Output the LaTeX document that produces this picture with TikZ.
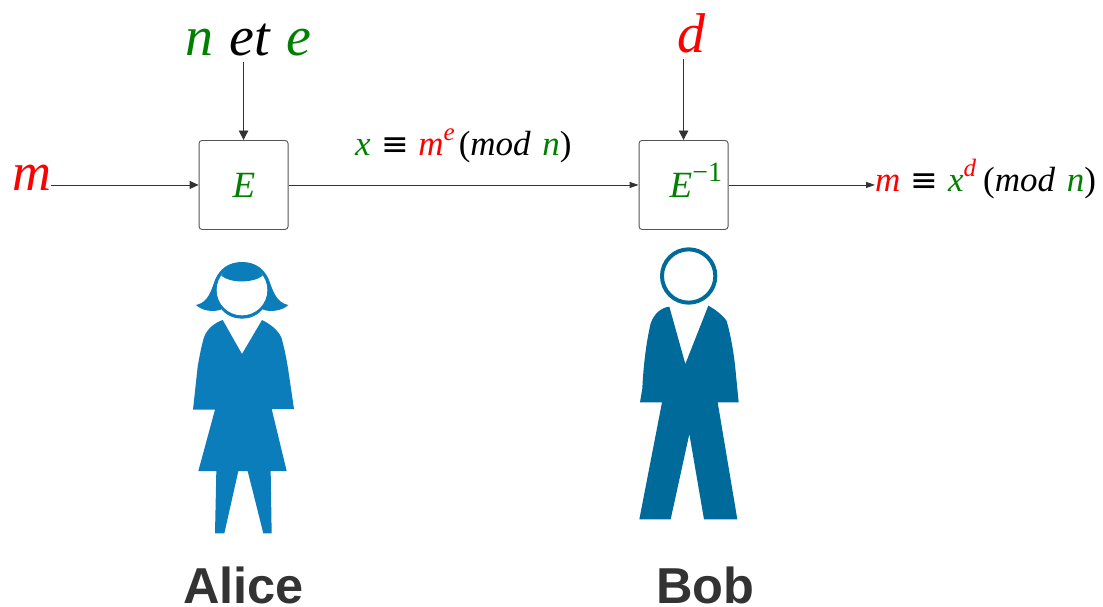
\documentclass[tikz,border=0pt]{standalone}
\usepackage{fontspec}
\setmainfont{Liberation Serif}
\newfontfamily\labelsans{Liberation Sans}
\newfontfamily\symfont{DejaVu Sans}
\usetikzlibrary{arrows.meta}
\definecolor{rsared}{HTML}{FF0000}
\definecolor{rsagreen}{HTML}{008000}
\definecolor{linegray}{HTML}{333333}
\definecolor{boxgray}{HTML}{555555}
\definecolor{alicecol}{HTML}{0A7DBA}
\definecolor{bobcol}{HTML}{006A9A}
\newcommand{\cred}[1]{\textcolor{rsared}{#1}}
\newcommand{\cgrn}[1]{\textcolor{rsagreen}{#1}}
\newcommand{\fsz}[1]{\fontsize{#1}{#1}\selectfont}
\newcommand{\supr}[1]{\raisebox{0.42em}{\fsz{25}#1}}
\newcommand{\equi}{\hspace{10.5pt}{\upshape\symfont\fsz{33}≡}\hspace{9.5pt}}
\tikzset{
  opbox/.style={draw=boxgray,line width=0.9pt,rounded corners=3pt,minimum width=89pt,minimum height=89pt,inner sep=0pt,anchor=north west},
  txt/.style={inner sep=0pt,anchor=base west,font=\itshape},
  conn/.style={draw=linegray,line width=0.9pt},
  tipdown/.style={conn,-{Triangle[length=9.5pt,width=9.5pt]}},
  tipside/.style={conn,-{Triangle[length=9pt,width=8pt]}},
  tipsmall/.style={conn,-{Triangle[length=9pt,width=6pt]}},
  who/.style={inner sep=0pt,anchor=base,text=linegray,text depth=0pt,font=\labelsans\bfseries\fsz{50.5}},
}
\begin{document}
\begin{tikzpicture}[x=1pt,y=-1pt]
\useasboundingbox (0,0) rectangle (1103,606);
% boxes
\node[opbox] (boxE) at (198.6,140) {};
\node[opbox] (boxD) at (638.6,140) {};
\node[txt,font=\itshape\fsz{37}] (labE) at (232.5,197) {\cgrn{E}};
\node[txt,font=\itshape\fsz{37}] (labD) at (669.5,197) {\cgrn{E}\raisebox{0.42em}{\upshape\fsz{28}\cgrn{−1}}};
% labels
\node[txt,font=\itshape\fsz{54}] (msg) at (12,190) {\cred{m}};
\node[inner sep=0pt,anchor=base,font=\itshape\fsz{56},text depth=0pt,outer ysep=6.5pt] (ne) at (248.5,55.5) {\cgrn{n}\hspace{2.5pt} et \hspace{2.5pt}\cgrn{e}};
\node[inner sep=0pt,anchor=base,font=\itshape\fsz{56},text depth=0pt,outer ysep=6.5pt] (dl) at (691,52) {\cred{d}};
\node[txt,font=\itshape\fsz{35}] (cipher) at (355,155.5) {\cgrn{x}\equi\cred{m}\supr{\cred{e}}\hspace{4pt}{\upshape(}mod\hspace{3pt} \cgrn{n}{\upshape)}};
\node[txt,font=\itshape\fsz{35}] (plain) at (875,191.5) {\cred{m}\equi\cgrn{x}\supr{\cred{d}}\hspace{7pt}{\upshape(}mod\hspace{3pt} \cgrn{n}{\upshape)}};
% connectors
\draw[tipside] (msg.east |- boxE.west) -- (boxE.west);
\draw[tipdown] (boxE.north |- ne.south) -- (boxE.north);
\draw[tipdown] (boxD.north |- dl.south) -- (boxD.north);
\draw[tipsmall] (boxE.east) -- (boxD.west);
\draw[tipsmall] (boxD.east) -- (boxD.east -| plain.west);
% Alice
\begin{scope}[shift={(170,250)},x=0.33333pt,y=-0.33333pt]
\fill[alicecol] (216,36) .. controls (175,36) and (148,58) .. (135,90)
  .. controls (124,120) and (115,158) .. (78,165)
  .. controls (95,182) and (130,188) .. (155,178)
  .. controls (170,198) and (195,206) .. (216,206)
  .. controls (237,206) and (262,198) .. (277,178)
  .. controls (300,188) and (338,182) .. (355,165)
  .. controls (318,158) and (308,120) .. (297,90)
  .. controls (284,58) and (257,36) .. (216,36) -- cycle;
\fill[white] (216,120) circle[radius=76];
\fill[alicecol] (154,77) .. controls (180,100) and (250,100) .. (278,77)
  .. controls (262,50) and (240,40) .. (216,40)
  .. controls (192,40) and (170,50) .. (154,77) -- cycle;
\fill[alicecol] (158,210) -- (216,312) -- (276,210)
  .. controls (300,222) and (322,238) .. (334,262)
  .. controls (345,300) and (352,340) .. (357,375)
  -- (372,477) -- (305,477) -- (350,663) -- (302,663) -- (305,850) -- (280,850)
  -- (233,663) -- (205,663) -- (163,850) -- (135,850) -- (139,663) -- (85,663)
  -- (135,479) -- (69,479) -- (83,350)
  .. controls (88,320) and (95,285) .. (102,262)
  .. controls (112,235) and (135,218) .. (158,210) -- cycle;
\end{scope}
% Bob
\begin{scope}[shift={(620,240)},x=0.33333pt,y=-0.33333pt]
\draw[bobcol,line width=4pt,fill=white] (206,108) circle[radius=80];
\fill[bobcol] (148,200) -- (196,372) -- (265,197)
  .. controls (285,208) and (308,225) .. (320,243)
  .. controls (332,285) and (342,340) .. (347,395)
  -- (356,487) -- (293,487) -- (352,838) -- (252,838) -- (208,582) -- (152,838)
  -- (58,838) -- (126,487) -- (60,487) -- (67,445)
  .. controls (70,380) and (78,310) .. (92,250)
  .. controls (102,222) and (122,203) .. (148,200) -- cycle;
\end{scope}
% names
\node[who] (alice) at (243.5,603) {Alice};
\node[who] (bob) at (705.5,603) {Bob};
\end{tikzpicture}
\end{document}
